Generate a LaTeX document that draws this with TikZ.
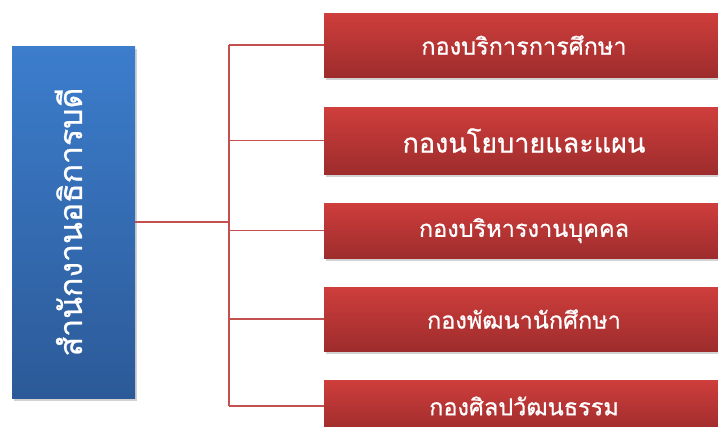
\documentclass[tikz,border=0pt]{standalone}
\usepackage{fontspec}
\newfontfamily\thaifont[Script=Thai,FakeBold=0.8]{Loma}
\usetikzlibrary{shadows}
\definecolor{bluetop}{HTML}{3C7DCC}
\definecolor{bluebot}{HTML}{2C5A98}
\definecolor{redtop}{HTML}{CE3E3C}
\definecolor{redbot}{HTML}{9E2C2C}
\definecolor{linered}{HTML}{C44F4F}
\tikzset{
  mainbox/.style={draw=none, top color=bluetop, bottom color=bluebot,
    minimum width=123pt, minimum height=352pt, inner sep=0pt,
    drop shadow={opacity=0.35, shadow xshift=2pt, shadow yshift=-3pt}},
  unitbox/.style={draw=none, top color=redtop, bottom color=redbot,
    minimum width=400pt, inner sep=0pt,
    drop shadow={opacity=0.35, shadow xshift=2pt, shadow yshift=-3pt}},
  unittext/.style={text=white, font=\thaifont\fontsize{23.5}{27}\selectfont},
  conn/.style={draw=linered, line width=1.6pt}
}
\begin{document}
\begin{tikzpicture}[x=1pt,y=-1pt]
\useasboundingbox (0,0) rectangle (718,426);
\fill[white] (0,0) rectangle (718,426);
\node[mainbox] (main) at (73.5,222) {};
\node[rotate=90, text=white, font=\thaifont\fontsize{32}{36}\selectfont] (maintext) at ([xshift=-5pt]main.center) {สำนักงานอธิการบดี};
\node[unitbox, minimum height=64pt] (b1) at (524,45) {};
\node[unitbox, minimum height=67pt] (b2) at (524,140.5) {};
\node[unitbox, minimum height=55pt] (b3) at (524,230.5) {};
\node[unitbox, minimum height=64pt] (b4) at (524,319) {};
\node[unitbox, minimum height=52pt] (b5) at (524,406) {};
\node[unittext] (t1) at (b1.center) {กองบริการการศึกษา};
\node[unittext, font=\thaifont\fontsize{27}{31}\selectfont] (t2) at (b2.center) {กองนโยบายและแผน};
\node[unittext] (t3) at (b3.center) {กองบริหารงานบุคคล};
\node[unittext] (t4) at (b4.center) {กองพัฒนานักศึกษา};
\node[unittext] (t5) at (b5.center) {กองศิลปวัฒนธรรม};
\coordinate (j) at (229,222);
\draw[conn] (main.east) -- (j);
\draw[conn] (b1.west -| j) -- (b5.west -| j);
\foreach \b in {b1,b2,b3,b4,b5} {\draw[conn] (\b.west -| j) -- (\b.west);}
\end{tikzpicture}
\end{document}
